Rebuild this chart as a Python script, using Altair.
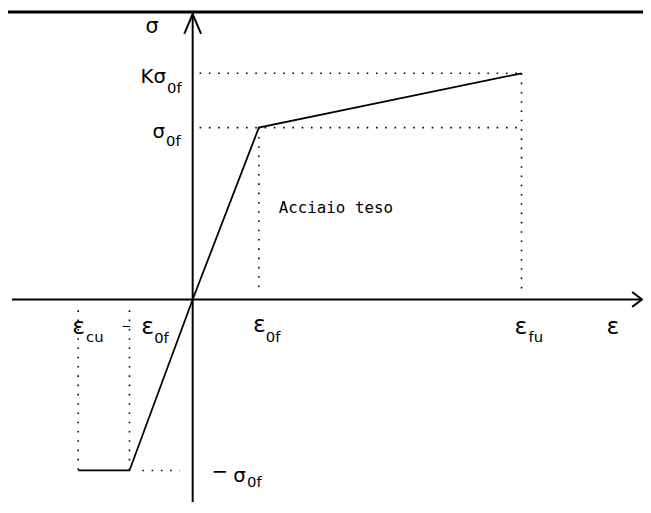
import altair as alt
import pandas as pd

# ---- values (strain in units of eps_0f, stress in units of sigma_0f)
strain_points = [-1.73, -0.955, 0.0, 1.0, 4.97]     # eps_cu, -eps_0f, 0, eps_0f, eps_fu
stress_points = [-0.995, -0.995, 0.0, 1.0, 1.316]   # -sig_0f, -sig_0f, 0, sig_0f, K*sig_0f
strain_subs = ["cu", "0f", "0f", "fu"]               # subscripts of eps_cu, -eps_0f, eps_0f, eps_fu
stress_mains = ["−", "σ", "σ", "Kσ"]                 # -sigma_0f (minus, sigma), sigma_0f, K sigma_0f
stress_sub = "0f"
axis_titles = ["ε", "σ"]
region_label = "Acciaio teso"

eps_cu, neg_eps0f, _, eps_0f, eps_fu = strain_points
neg_sig, sig_0f, k_sig = stress_points[1], stress_points[3], stress_points[4]

# ---- layout (pixels)
W, H = 643, 497
OX, OY = 187, 292          # origin inside the plot area
UX, UY = 67.0, 174.0       # pixels per unit
xmin, xmax = -OX / UX, (W - OX) / UX
ymin, ymax = -(H - OY) / UY, OY / UY
x_start, x_end = (4 - OX) / UX, (642 - OX) / UX
y_top, y_bot = (OY - 3) / UY, ymin

xs = alt.Scale(domain=[xmin, xmax], nice=False, zero=False)
ys = alt.Scale(domain=[ymin, ymax], nice=False, zero=False)
FONT = "DejaVu Sans"


def seg_df(segments):
    rows = []
    for i, pts in enumerate(segments):
        for j, (x, y) in enumerate(pts):
            rows.append({"seg": i, "ord": j, "x": x, "y": y})
    return pd.DataFrame(rows)


def lines(segments, **mark):
    return alt.Chart(seg_df(segments)).mark_line(color="black", **mark).encode(
        x=alt.X("x:Q", scale=xs, axis=None),
        y=alt.Y("y:Q", scale=ys, axis=None),
        detail="seg:N",
        order="ord:Q",
    )


# constitutive law
curve = lines([list(zip(strain_points, stress_points))], strokeWidth=1.8)

# axes with open arrowheads
ax_len, ax_half = 10 / UX, 7.5 / UY
ay_len, ay_half = 20 / UY, 8.5 / UX
axes = lines(
    [
        [(x_start, 0), (x_end, 0)],
        [(x_end - ax_len, ax_half), (x_end, 0), (x_end - ax_len, -ax_half)],
        [(0, y_bot), (0, y_top)],
        [(-ay_half, y_top - ay_len), (0, y_top), (ay_half, y_top - ay_len)],
    ],
    strokeWidth=2,
)

# dotted guides
gx, gy = 7 / UX, 11 / UY
guides = lines(
    [
        [(gx, k_sig), (eps_fu, k_sig)],
        [(gx, sig_0f), (eps_fu, sig_0f)],
        [(eps_0f, sig_0f), (eps_0f, gy)],
        [(eps_fu, k_sig), (eps_fu, gy)],
        [(eps_cu, -gy), (eps_cu, neg_sig)],
        [(neg_eps0f, -gy), (neg_eps0f, neg_sig)],
        [(neg_eps0f + 13 / UX, neg_sig), (-13 / UX, neg_sig)],
    ],
    strokeWidth=1.6,
    strokeDash=[1.6, 7.8],
)

border = alt.Chart(pd.DataFrame({"a": [0]})).mark_rule(color="black", strokeWidth=3).encode(
    x=alt.value(0), x2=alt.value(W), y=alt.value(1)
)

# labels: (text, anchor x, anchor y, dx, dy, size, align, font)
SUB = 15
labels = [
    (axis_titles[1], 0, y_top, -41, 19, 21, "center", FONT),
    (stress_mains[3], 0, k_sig, -27, 10, 20, "right", FONT),
    (stress_sub, 0, k_sig, -26, 20, SUB, "left", FONT),
    (stress_mains[2], 0, sig_0f, -28, 11, 20, "right", FONT),
    (stress_sub, 0, sig_0f, -27, 19, SUB, "left", FONT),
    (stress_mains[0], 0, neg_sig, 19, 8, 20, "left", FONT),
    (stress_mains[1], 0, neg_sig, 41, 12, 20, "left", FONT),
    (stress_sub, 0, neg_sig, 55, 17, SUB, "left", FONT),
    ("ε", eps_cu, 0, -6, 35, 24, "left", FONT),
    (strain_subs[0], eps_cu, 0, 8, 43, SUB, "left", FONT),
    ("−", neg_eps0f, 0, -8, 31, 12, "left", FONT),
    ("ε", neg_eps0f, 0, 12, 35, 24, "left", FONT),
    (strain_subs[1], neg_eps0f, 0, 25, 44, SUB, "left", FONT),
    ("ε", eps_0f, 0, -6, 33, 24, "left", FONT),
    (strain_subs[2], eps_0f, 0, 7, 43, SUB, "left", FONT),
    ("ε", eps_fu, 0, -7, 35, 24, "left", FONT),
    (strain_subs[3], eps_fu, 0, 7, 43, SUB, "left", FONT),
    (axis_titles[0], x_end, 0, -36, 35, 24, "left", FONT),
    (region_label, eps_0f, 0, 78, -88, 16, "center", "DejaVu Sans Mono"),
]

text_layers = []
for txt, ax, ay, dx, dy, size, align, font in labels:
    text_layers.append(
        alt.Chart(pd.DataFrame({"x": [ax], "y": [ay], "t": [txt]}))
        .mark_text(dx=dx, dy=dy, fontSize=size, align=align, baseline="alphabetic",
                   font=font, color="black")
        .encode(
            x=alt.X("x:Q", scale=xs, axis=None),
            y=alt.Y("y:Q", scale=ys, axis=None),
            text="t:N",
        )
    )

chart = (
    alt.layer(border, guides, axes, curve, *text_layers)
    .properties(width=W, height=H, autosize=alt.AutoSizeParams(type="none"), padding=0,
                background="white")
    .configure_view(stroke=None)
)

chart.save("out.html", embed_options={"renderer": "svg", "actions": False})
